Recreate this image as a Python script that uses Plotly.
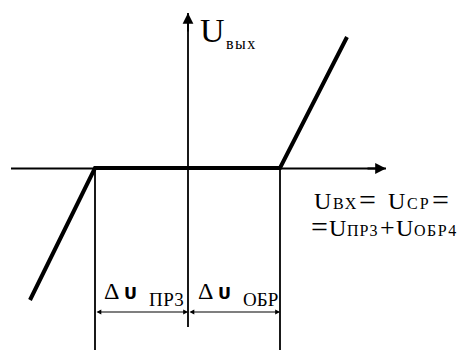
import plotly.graph_objects as go

# characteristic (thick broken line), in picture coordinates
char_x = [30, 95, 280, 347]
char_y = [300, 168, 168, 37]

# axes
h_axis_x = [11, 386]
h_axis_y = [168.5, 168.5]
v_axis_x = [188, 188]
v_axis_y = [327, 13]

# vertical boundary lines
bound_left_x = [95, 95]
bound_right_x = [280, 280]
bound_y = [168, 350]

# dimension arrows
dim_y = 312
dim_left = [95, 188]
dim_right = [188, 280]

SERIF = "Times New Roman, Liberation Serif, serif"
SANS = "DejaVu Sans, sans-serif"

fig = go.Figure()

def seg(x, y, w):
    fig.add_trace(go.Scatter(x=x, y=y, mode="lines",
                             line=dict(color="black", width=w),
                             hoverinfo="skip", showlegend=False))

seg(h_axis_x, h_axis_y, 1.8)
seg(v_axis_x, v_axis_y, 1.8)
seg(bound_left_x, bound_y, 1.8)
seg(bound_right_x, bound_y, 1.8)
seg(char_x, char_y, 4)

annotations = []
# axis arrowheads
annotations.append(dict(x=h_axis_x[1], y=h_axis_y[1], ax=h_axis_x[1] - 20, ay=h_axis_y[1],
                        xref="x", yref="y", axref="x", ayref="y", text="",
                        showarrow=True, arrowhead=2, arrowsize=1.2, arrowwidth=1.8, arrowcolor="black"))
annotations.append(dict(x=v_axis_x[0], y=v_axis_y[1], ax=v_axis_x[0], ay=v_axis_y[1] + 20,
                        xref="x", yref="y", axref="x", ayref="y", text="",
                        showarrow=True, arrowhead=2, arrowsize=1.2, arrowwidth=1.8, arrowcolor="black"))
# dimension arrows (double headed)
for a, b in (dim_left, dim_right):
    annotations.append(dict(x=b, y=dim_y, ax=a, ay=dim_y,
                            xref="x", yref="y", axref="x", ayref="y", text="",
                            showarrow=True, arrowhead=2, startarrowhead=2, arrowside="end+start",
                            arrowsize=0.8, arrowwidth=1.2, arrowcolor="black"))

K = 0.32  # baseline offset from text centre, in em


def txt(x, base, text, size, family=SERIF, bold=False, spacing=0):
    t = ("<b>%s</b>" % text) if bold else text
    if spacing:
        t = "<span style='letter-spacing:%gpx'>%s</span>" % (spacing, t)
    annotations.append(dict(x=x, y=base - K * size, xref="x", yref="y",
                            xanchor="left", yanchor="middle",
                            showarrow=False, text=t,
                            font=dict(family=family, size=size, color="black")))

# U вых
txt(198, 41, "U", 34)
txt(224, 49, "вых", 16, spacing=1.5)

# right block, line 1
L1 = 209
txt(312, L1, "U", 24)
txt(331, L1, "ВХ", 16, spacing=1.5)
txt(357, L1, "=", 30)
txt(386, L1, "U", 24)
txt(405, L1, "СР", 16, spacing=2)
txt(430, L1, "=", 30)
# right block, line 2
L2 = 236
txt(309, L2, "=", 30)
txt(327, L2, "U", 24)
txt(345, L2, "ПР3", 16, spacing=1)
txt(378, L2, "+", 26)
txt(394, L2, "U", 24)
txt(412, L2, "ОБР4", 16, spacing=1.5)

# delta labels
txt(102, 299, "Δ", 24)
txt(122, 299, "U", 16, family=SANS, bold=True)
txt(147, 306, "ПР3", 19, spacing=0.5)
txt(196, 299, "Δ", 24)
txt(216, 299, "U", 16, family=SANS, bold=True)
txt(241, 306, "ОБР", 19)

fig.update_layout(
    width=474, height=350,
    margin=dict(l=0, r=0, t=0, b=0),
    paper_bgcolor="white", plot_bgcolor="white",
    xaxis=dict(range=[0, 474], visible=False, fixedrange=True),
    yaxis=dict(range=[350, 0], visible=False, fixedrange=True),
    annotations=annotations,
    showlegend=False,
)

fig.write_html("out.html", config={"displayModeBar": False},
               post_script="document.body.style.margin='0';")
